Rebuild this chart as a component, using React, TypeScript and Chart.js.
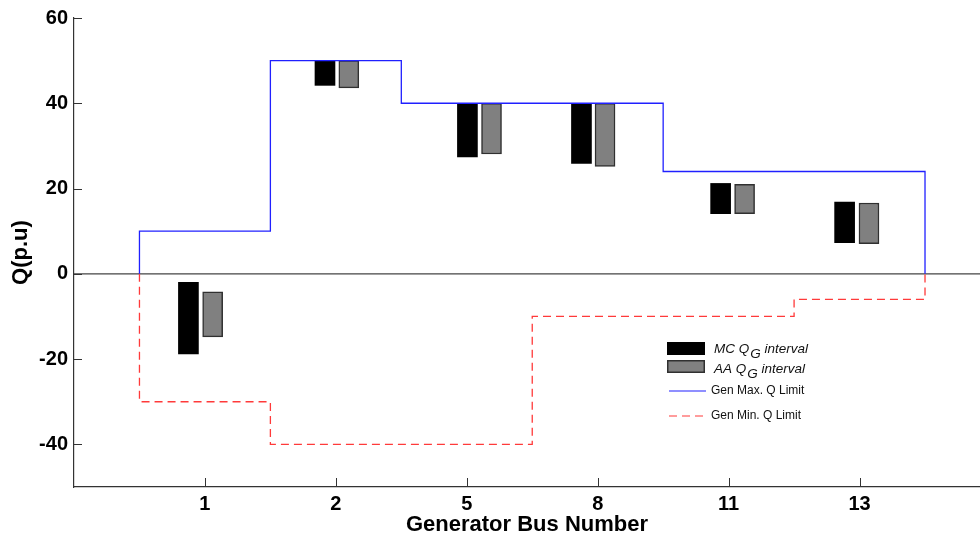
import { useEffect, useRef } from 'react';
import { Chart, registerables } from 'chart.js';

Chart.register(...registerables);

// Generator buses (axis labels) and their index positions on the x axis
const busLabels = ['1', '2', '5', '8', '11', '13'];
const busIndex = [1, 2, 3, 4, 5, 6];

// Monte Carlo reactive power interval per generator (p.u)
const mcLow = [-18.8, 44.2, 27.4, 25.9, 14.1, 7.3];
const mcHigh = [-2.0, 50, 40, 40, 21.2, 16.8];
const mcPos = [0.874, 1.917, 3.005, 3.876, 4.939, 5.886];

// Affine arithmetic reactive power interval per generator (p.u)
const aaLow = [-14.8, 43.6, 28.1, 25.2, 14.1, 7.1];
const aaHigh = [-4.2, 50, 40, 40, 21.0, 16.6];
const aaPos = [1.059, 2.099, 3.189, 4.056, 5.122, 6.072];

// Generator reactive power limits
const qMax = [10, 50, 40, 40, 24, 24];
const qMin = [-30, -40, -40, -10, -10, -6];

const yTicks = [-40, -20, 0, 20, 40, 60];

const FONT = "'Liberation Sans', Arial, Helvetica, sans-serif";

// Builds a staircase outline: rises from zero at the first bus edge,
// holds each bus's limit across its slot, then returns to zero.
function stepPoints(limits: number[]) {
  const pts: { x: number; y: number }[] = [{ x: busIndex[0] - 0.5, y: 0 }];
  limits.forEach((q, i) => {
    pts.push({ x: busIndex[i] - 0.5, y: q });
    pts.push({ x: busIndex[i] + 0.5, y: q });
  });
  pts.push({ x: busIndex[busIndex.length - 1] + 0.5, y: 0 });
  return pts;
}

const decorPlugin = {
  id: 'decor',
  beforeDatasetsDraw(chart: any) {
    const { ctx, chartArea, scales } = chart;
    const y0 = scales.y.getPixelForValue(0);
    ctx.save();
    ctx.strokeStyle = '#444';
    ctx.lineWidth = 1.2;
    ctx.beginPath();
    ctx.moveTo(chartArea.left, y0);
    ctx.lineTo(chartArea.right, y0);
    ctx.stroke();
    ctx.restore();
  },
  afterDraw(chart: any) {
    const { ctx, chartArea, scales } = chart;
    ctx.save();
    // inward tick marks
    ctx.strokeStyle = '#333';
    ctx.lineWidth = 1;
    ctx.beginPath();
    yTicks.forEach((v) => {
      const py = Math.round(scales.y.getPixelForValue(v)) + 0.5;
      ctx.moveTo(chartArea.left, py);
      ctx.lineTo(chartArea.left + 8, py);
    });
    busIndex.forEach((v) => {
      const px = Math.round(scales.x.getPixelForValue(v)) + 0.5;
      ctx.moveTo(px, chartArea.bottom);
      ctx.lineTo(px, chartArea.bottom - 9);
    });
    ctx.stroke();

    // legend
    const lx = 667;
    ctx.fillStyle = '#000';
    ctx.fillRect(lx, 342, 38, 13);
    ctx.fillStyle = '#808080';
    ctx.fillRect(lx, 360, 38, 13);
    ctx.strokeStyle = '#303030';
    ctx.lineWidth = 1.5;
    ctx.strokeRect(lx + 0.75, 360.75, 36.5, 11.5);

    const subLabel = (prefix: string, baseY: number) => {
      ctx.fillStyle = '#111';
      ctx.textBaseline = 'alphabetic';
      ctx.textAlign = 'left';
      ctx.font = `italic 13.5px ${FONT}`;
      let x = 714;
      ctx.fillText(prefix, x, baseY);
      x += ctx.measureText(prefix).width + 1;
      ctx.fillText('G', x, baseY + 5);
      x += ctx.measureText('G').width;
      ctx.fillText(' interval', x, baseY);
    };
    subLabel('MC Q', 352.5);
    subLabel('AA Q', 372.5);

    ctx.lineWidth = 1.2;
    ctx.strokeStyle = '#2020ff';
    ctx.beginPath();
    ctx.moveTo(669, 391);
    ctx.lineTo(706, 391);
    ctx.stroke();
    ctx.strokeStyle = '#ff3a3a';
    ctx.setLineDash([8, 5]);
    ctx.beginPath();
    ctx.moveTo(669, 416);
    ctx.lineTo(706, 416);
    ctx.stroke();
    ctx.setLineDash([]);

    ctx.fillStyle = '#111';
    ctx.font = `12px ${FONT}`;
    ctx.textBaseline = 'middle';
    ctx.fillText('Gen Max. Q Limit', 711, 391);
    ctx.fillText('Gen Min. Q Limit', 711, 416);
    ctx.restore();
  },
};

export default function App() {
  const canvasRef = useRef<HTMLCanvasElement | null>(null);

  useEffect(() => {
    if (!canvasRef.current) return;
    const chart = new Chart(canvasRef.current, {
      type: 'line',
      data: {
        datasets: [
          {
            type: 'line',
            label: 'Gen Max. Q Limit',
            data: stepPoints(qMax),
            borderColor: '#2020ff',
            borderWidth: 1.3,
            pointRadius: 0,
            fill: false,
            tension: 0,
            order: 0,
          },
          {
            type: 'line',
            label: 'Gen Min. Q Limit',
            data: stepPoints(qMin),
            borderColor: '#ff3a3a',
            borderWidth: 1.3,
            borderDash: [8, 5],
            pointRadius: 0,
            fill: false,
            tension: 0,
            order: 0,
          },
          {
            type: 'bar',
            label: 'MC QG interval',
            data: mcPos.map((x, i) => ({ x, y: [mcLow[i], mcHigh[i]] })) as any,
            backgroundColor: '#000',
            borderColor: '#000',
            borderWidth: 0,
            barThickness: 20,
            grouped: false,
            order: 1,
          } as any,
          {
            type: 'bar',
            label: 'AA QG interval',
            data: aaPos.map((x, i) => ({ x, y: [aaLow[i], aaHigh[i]] })) as any,
            backgroundColor: '#808080',
            borderColor: '#303030',
            borderWidth: 1.5,
            borderSkipped: false,
            barThickness: 20,
            grouped: false,
            order: 1,
          } as any,
        ],
      },
      options: {
        responsive: false,
        animation: false,
        layout: { padding: { top: 18, right: 0, bottom: 0, left: 0 } },
        plugins: {
          legend: { display: false },
          tooltip: { enabled: false },
        },
        scales: {
          x: {
            type: 'linear',
            min: 0,
            max: 6.92,
            offset: false,
            afterBuildTicks: (axis: any) => {
              axis.ticks = busIndex.map((v) => ({ value: v }));
            },
            afterFit: (s: any) => {
              s.height = 53;
            },
            ticks: {
              autoSkip: false,
              maxRotation: 0,
              padding: 5,
              color: '#000',
              font: { family: FONT, size: 20, weight: 'bold' },
              callback: (v: any) => busLabels[busIndex.indexOf(Number(v))] ?? '',
            },
            grid: { display: false, drawTicks: false },
            border: { display: true, color: '#333', width: 1.2 },
            title: {
              display: true,
              text: 'Generator Bus Number',
              color: '#000',
              font: { family: FONT, size: 22, weight: 'bold' },
              padding: { top: 0, bottom: 2 },
            },
          },
          y: {
            type: 'linear',
            min: -50,
            max: 60,
            afterBuildTicks: (axis: any) => {
              axis.ticks = yTicks.map((v) => ({ value: v }));
            },
            afterFit: (s: any) => {
              s.width = 74;
            },
            ticks: {
              padding: 6,
              color: '#000',
              font: { family: FONT, size: 20, weight: 'bold' },
            },
            grid: { display: false, drawTicks: false },
            border: { display: true, color: '#333', width: 1.2 },
            title: {
              display: true,
              text: 'Q(p.u)',
              color: '#000',
              font: { family: FONT, size: 22, weight: 'bold' },
              padding: { top: 8, bottom: 0 },
            },
          },
        },
      },
      plugins: [decorPlugin],
    });
    return () => chart.destroy();
  }, []);

  return (
    <div style={{ position: 'fixed', left: 0, top: 0, width: 980, height: 540, background: '#fff' }}>
      <canvas ref={canvasRef} width={980} height={540} style={{ display: 'block' }} />
    </div>
  );
}
